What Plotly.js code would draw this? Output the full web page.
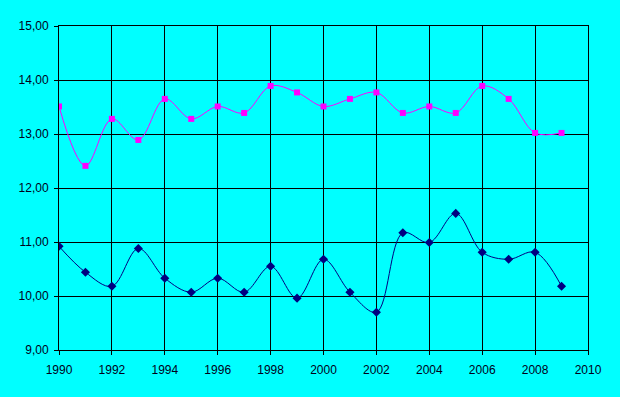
<!DOCTYPE html>
<html>
<head>
<meta charset="utf-8">
<script src="https://cdn.plot.ly/plotly-3.0.1.min.js"></script>
<style>html,body{margin:0;padding:0;background:#00FFFF;}</style>
</head>
<body>
<div id="chart" style="width:620px;height:397px;"></div>
<script>
const years = [1990,1991,1992,1993,1994,1995,1996,1997,1998,1999,2000,2001,2002,2003,2004,2005,2006,2007,2008,2009];
const seriesPink = [13.51,12.41,13.28,12.89,13.65,13.28,13.51,13.39,13.89,13.77,13.51,13.65,13.77,13.39,13.51,13.39,13.89,13.65,13.02,13.02];
const seriesNavy = [10.92,10.44,10.18,10.88,10.33,10.07,10.33,10.07,10.55,9.96,10.68,10.07,9.70,11.17,10.99,11.53,10.81,10.68,10.81,10.18];

const traces = [
  {x: years, y: seriesPink, type: 'scatter', mode: 'lines+markers',
   line: {color: '#FF00FF', width: 1, shape: 'spline', smoothing: 1},
   marker: {symbol: 'square', size: 6, color: '#FF00FF'}, hoverinfo: 'x+y'},
  {x: years, y: seriesNavy, type: 'scatter', mode: 'lines+markers',
   line: {color: '#000080', width: 1, shape: 'spline', smoothing: 1},
   marker: {symbol: 'diamond', size: 7, color: '#000080'}, hoverinfo: 'x+y'}
];

const layout = {
  width: 620, height: 397,
  paper_bgcolor: '#00FFFF', plot_bgcolor: '#00FFFF',
  margin: {l: 59, r: 32, t: 26, b: 47},
  showlegend: false,
  separators: ',.',
  font: {family: 'Liberation Sans, Arial, sans-serif', size: 12, color: '#00001a'},
  xaxis: {range: [1990, 2010], dtick: 2, tick0: 1990, tickformat: 'd',
          showgrid: true, gridcolor: '#000000', gridwidth: 1,
          showline: true, linecolor: '#000000', linewidth: 1, mirror: true,
          ticks: 'outside', ticklen: 4, tickcolor: '#000000', zeroline: false,
          ticklabelstandoff: 5, fixedrange: true},
  yaxis: {range: [9, 15], dtick: 1, tick0: 9, tickformat: '.2f',
          showgrid: true, gridcolor: '#000000', gridwidth: 1,
          showline: true, linecolor: '#000000', linewidth: 1, mirror: true,
          ticks: 'outside', ticklen: 4, tickcolor: '#000000', zeroline: false,
          ticklabelstandoff: 3, fixedrange: true}
};

Plotly.newPlot('chart', traces, layout, {displayModeBar: false, staticPlot: true});
</script>
</body>
</html>
